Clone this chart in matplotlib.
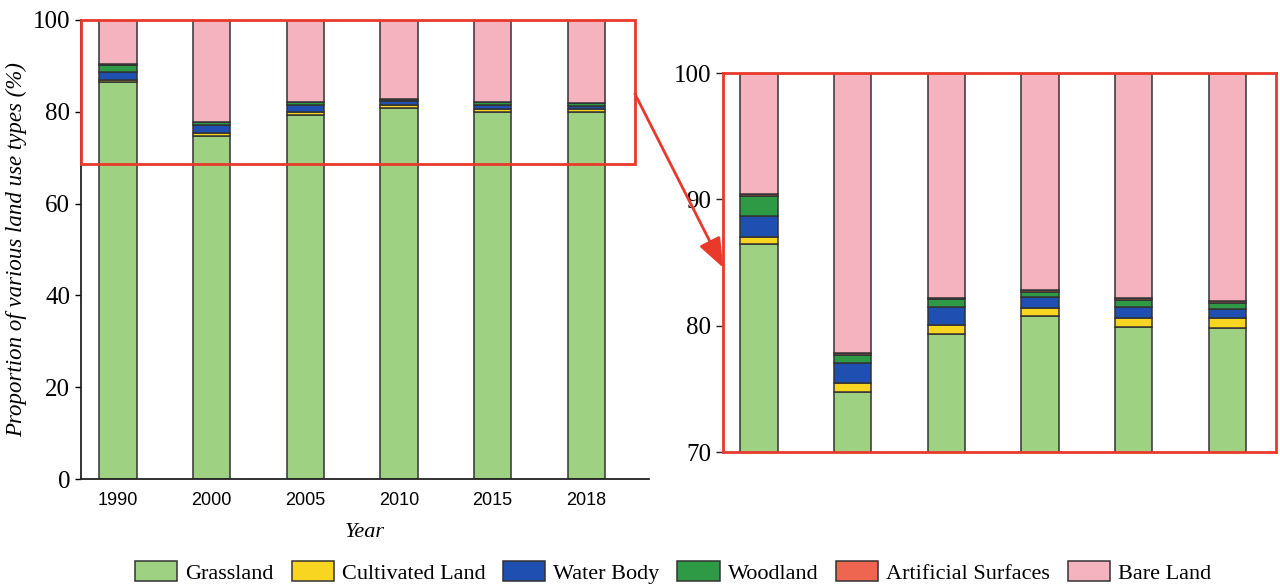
import numpy as np
import matplotlib.pyplot as plt
from matplotlib.patches import Rectangle, ConnectionPatch

years = ["1990", "2000", "2005", "2010", "2015", "2018"]
grassland = [86.5, 74.75, 79.35, 80.75, 79.9, 79.85]
cultivated = [0.5, 0.7, 0.7, 0.65, 0.75, 0.75]
water = [1.7, 1.6, 1.45, 0.9, 0.85, 0.75]
woodland = [1.55, 0.65, 0.6, 0.35, 0.55, 0.45]
artificial = [0.15, 0.15, 0.1, 0.15, 0.15, 0.2]
bare = [100 - sum(v) for v in zip(grassland, cultivated, water, woodland, artificial)]

names = ["Grassland", "Cultivated Land", "Water Body", "Woodland", "Artificial Surfaces", "Bare Land"]
colors = ["#9fd183", "#f8d520", "#1f4fb0", "#2e9a45", "#ef6650", "#f5b3c0"]
layers = [grassland, cultivated, water, woodland, artificial, bare]

serif = "Liberation Serif"
sans = "Liberation Sans"
red = "#e8392b"

fig = plt.figure(figsize=(12.8, 5.85), dpi=100)
ax1 = fig.add_axes([0.063, 0.181, 0.444, 0.785])
ax2 = fig.add_axes([0.565, 0.227, 0.432, 0.648])

x = np.arange(len(years))


def stack(ax):
    bottom = np.zeros(len(years))
    handles = []
    for vals, c, n in zip(layers, colors, names):
        h = ax.bar(x, vals, 0.4, bottom=bottom, color=c, edgecolor="#333333",
                   linewidth=1.1, label=n)
        bottom += np.array(vals)
        handles.append(h)
    return handles


handles = stack(ax1)
ax1.set_xlim(-0.4, 5.67)
ax1.set_ylim(0, 100)
ax1.set_yticks([0, 20, 40, 60, 80, 100])
ax1.set_xticks(x)
ax1.set_xticklabels(years, fontfamily=sans, fontsize=13)
for t in ax1.get_yticklabels():
    t.set_fontfamily(serif)
    t.set_fontsize(18)
ax1.tick_params(axis="x", length=0, pad=9)
ax1.tick_params(axis="y", length=4, width=1, direction="out")
ax1.spines["top"].set_visible(False)
ax1.spines["right"].set_visible(False)
for s in ("left", "bottom"):
    ax1.spines[s].set_linewidth(1.3)
    ax1.spines[s].set_color("#222222")
ax1.set_ylabel("Proportion of various land use types (%)", fontfamily=serif,
               fontstyle="italic", fontsize=16.5, labelpad=4)
ax1.set_xlabel("Year", fontfamily=serif, fontstyle="italic", fontsize=16, labelpad=10)

# zoom window on the left chart
ax1.add_patch(Rectangle((-0.4, 68.6), 5.92, 31.4, fill=False, edgecolor=red,
                        linewidth=2, clip_on=False, zorder=5))

stack(ax2)
ax2.set_xlim(-0.38, 5.52)
ax2.set_ylim(70, 100)
ax2.set_yticks([70, 80, 90, 100])
ax2.set_xticks([])
for t in ax2.get_yticklabels():
    t.set_fontfamily(serif)
    t.set_fontsize(18)
ax2.tick_params(axis="y", length=5, width=1, direction="out", color="#222222")
for s in ax2.spines.values():
    s.set_color(red)
    s.set_linewidth(2)

arrow = ConnectionPatch(xyA=(5.52, 83.9), coordsA=ax1.transData,
                        xyB=(-0.38, 84.6), coordsB=ax2.transData,
                        arrowstyle="-|>,head_length=0.9,head_width=0.35",
                        color=red, linewidth=2, mutation_scale=20)
fig.add_artist(arrow)

fig.legend(handles=handles, labels=names, loc="center", bbox_to_anchor=(0.526, 0.021),
           ncol=6, frameon=False, prop={"family": serif, "size": 16},
           handlelength=1.9, handleheight=1.0, columnspacing=0.8, handletextpad=0.36)

fig.savefig("out.png", dpi=100)
